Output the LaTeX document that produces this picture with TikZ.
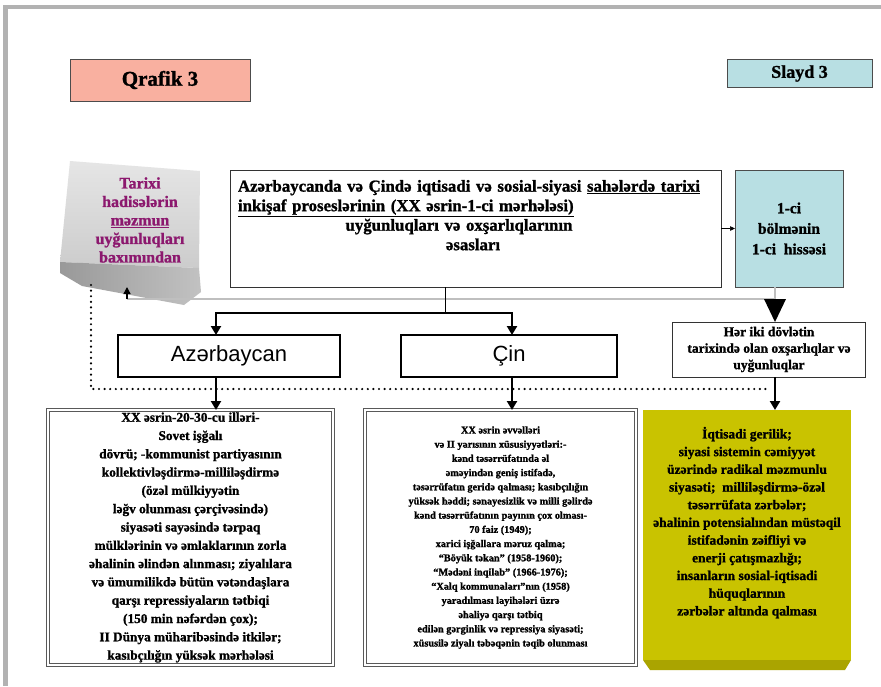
\documentclass[tikz,border=0pt]{standalone}
\usepackage{fontspec}
\setmainfont{Liberation Serif}[BoldFeatures={FakeBold=1.2}]
\newfontfamily\arialf{Liberation Sans}
\usetikzlibrary{arrows.meta,calc}
\definecolor{salmon}{RGB}{249,176,160}
\definecolor{lcyan}{RGB}{184,223,227}
\definecolor{purp}{RGB}{140,24,110}
\definecolor{olivey}{RGB}{201,195,0}
\definecolor{olived}{RGB}{170,164,0}
\begin{document}
\begin{tikzpicture}[x=1pt,y=-1pt,
  every node/.style={inner sep=0pt, outer sep=0pt},
  plainbox/.style={draw=black!80, line width=0.7pt, fill=white},
  dblbox/.style={draw=black!65, line width=0.9pt, double=white, double distance=1.6pt, fill=white},
  ctrybox/.style={draw=black, line width=2.6pt, fill=white, font=\arialf\fontsize{22}{25}\selectfont},
  thickarrow/.style={line width=2.6pt, -{Triangle[width=10pt,length=9pt]}},
  dline/.style={draw=black!75, line width=0.7pt, double=black!25, double distance=1.2pt},
  dotline/.style={line width=2.4pt, line cap=round, dash pattern=on 0pt off 5.6pt},
  txt/.style 2 args={align=center, font=\bfseries\fontsize{#1}{#2}\selectfont},
]
\useasboundingbox (0,0) rectangle (881,686);
\fill[white] (0,0) rectangle (881,686);
\draw[line width=4.5pt, black!30] (5.5,686) -- (5.5,7) -- (881,7);

% title boxes
\node[draw=black!70, line width=0.7pt, fill=salmon, minimum width=180pt, minimum height=42pt,
  font=\bfseries\fontsize{21}{24}\selectfont] (qrafik) at (160,80) {Qrafik 3};
\node[draw=black!70, line width=0.7pt, fill=lcyan, minimum width=145pt, minimum height=28pt,
  font=\bfseries\fontsize{18}{21}\selectfont] (slayd) at (799.5,73.5) {Slayd 3};

% 3D gray box
\shade[top color=black!10, bottom color=black!20] (70,161) -- (200,171) -- (199,268) -- (60,262) -- cycle;
\shade[left color=black!40, right color=black!24] (60,262) -- (199,268) -- (201,292) -- (184,305) -- (82,286) -- (60,273) -- cycle;
\node[align=center, text=purp, font=\bfseries\fontsize{16}{18.5}\selectfont] (hist) at (140,220)
  {Tarixi\\hadisələrin\\\underline{məzmun}\\uyğunluqları\\baxımından};
\coordinate (histbot) at (127,287);

% main box
\node[plainbox, minimum width=491pt, minimum height=117pt] (main) at (475.5,228.5) {};
\node[anchor=north west, text width=470pt, align=left,
  font=\bfseries\fontsize{16.8}{19.5}\selectfont] (maintext) at (238,180)
  {Azərbaycanda və Çində iqtisadi və sosial-siyasi \underline{sahələrdə tarixi}\\
   \underline{inkişaf proseslərinin (XX əsrin-1-ci mərhələsi)}\par
   \hspace*{-28pt}\centering uyğunluqları və oxşarlıqlarının\\əsasları\par};

% part box
\node[draw=black!70, line width=0.7pt, fill=lcyan, minimum width=108pt, minimum height=117pt,
  txt={15.5}{20.5}] (part) at (789,228.5) {1-ci\\bölmənin\\1-ci\ \ hissəsi};
\draw[line width=0.6pt, -{Triangle[width=4.5pt,length=5pt]}] (main.east) -- (part.west);

% both box
\node[plainbox, minimum width=193pt, minimum height=55pt, txt={13.5}{16.5}] (both) at (769,349.5)
  {Hər iki dövlətin\\tarixində olan oxşarlıqlar və\\uyğunluqlar};

% double connector
\coordinate (jr) at (775,299);
\coordinate (jl) at (127,299);
\draw[dline] (part.south -| jr) -- (jr);
\draw[dline] (jr) -- (jl);
\draw[line width=1.3pt, -{Triangle[width=7pt,length=7pt]}] (jl) -- (histbot);
\fill ($(jr)+(-11,0)$) -- ($(jr)+(11,0)$) -- (both.north -| jr) -- cycle;

% country boxes
\node[ctrybox, minimum width=222pt, minimum height=42pt] (az) at (229,356) {Azərbaycan};
\node[ctrybox, minimum width=216pt, minimum height=42pt] (cin) at (509,356) {Çin};

\coordinate (msplit) at (445,313);
\coordinate (ta) at (216,313);
\coordinate (tc) at (512,313);
\draw[line width=0.8pt] (main.south -| msplit) -- (msplit);
\draw[thickarrow] (msplit) -- (ta) -- (ta |- az.north);
\draw[thickarrow] (msplit) -- (tc) -- (tc |- cin.north);

% dotted line
\coordinate (dtop) at (91,285);
\coordinate (dcorner) at (91,389);
\coordinate (dend) at (768,389);
\draw[dotline] (dtop) -- (dcorner) -- (dend);

% bottom boxes
\node[dblbox, minimum width=285pt, minimum height=255pt, align=center,
  font=\bfseries\fontsize{13.3}{18.3}\selectfont] (lbox) at (190.5,537.5)
  {XX əsrin-20-30-cu illəri-\\
   Sovet işğalı\\
   dövrü; -kommunist partiyasının\\
   kollektivləşdirmə-milliləşdirmə\\
   (özəl mülkiyyətin\\
   ləğv olunması çərçivəsində)\\
   siyasəti sayəsində tərpaq\\
   mülklərinin və əmlaklarının zorla\\
   əhalinin əlindən alınması; ziyalılara\\
   və ümumilikdə bütün vətəndaşlara\\
   qarşı repressiyaların tətbiqi\\
   (150 min nəfərdən çox);\\
   II Dünya müharibəsində itkilər;\\
   kasıbçılığın yüksək mərhələsi};

\node[dblbox, minimum width=271pt, minimum height=255pt, align=center,
  font=\bfseries\fontsize{10.3}{14.2}\selectfont] (mbox) at (500.5,537.5)
  {XX əsrin əvvəlləri\\
   və II yarısının xüsusiyyətləri:-\\
   kənd təsərrüfatında əl\\
   əməyindən geniş istifadə,\\
   təsərrüfatın geridə qalması; kasıbçılığın\\
   yüksək həddi; sənayesizlik və milli gəlirdə\\
   kənd təsərrüfatının payının çox olması-\\
   70 faiz (1949);\\
   xarici işğallara məruz qalma;\\
   “Böyük təkan” (1958-1960);\\
   “Mədəni inqilab” (1966-1976);\\
   “Xalq kommunaları”nın (1958)\\
   yaradılması layihələri üzrə\\
   əhaliyə qarşı tətbiq\\
   edilən gərginlik və repressiya siyasəti;\\
   xüsusilə ziyalı təbəqənin təqib olunması};

\node[fill=olivey, minimum width=208pt, minimum height=250pt, align=center,
  font=\bfseries\fontsize{13.5}{17.7}\selectfont] (ybox) at (747,535)
  {İqtisadi gerilik;\\
   siyasi sistemin cəmiyyət\\
   üzərində radikal məzmunlu\\
   siyasəti;\ \ milliləşdirmə-özəl\\
   təsərrüfata zərbələr;\\
   əhalinin potensialından müstəqil\\
   istifadənin zəifliyi və\\
   enerji çatışmazlığı;\\
   insanların sosial-iqtisadi\\
   hüquqlarının\\
   zərbələr altında qalması\\[10pt]};
\fill[olived] (ybox.south west) -- (ybox.south east) -- ++(-6,10) -- ($(ybox.south west)+(7,10)$) -- cycle;

% arrows down
\draw[thickarrow] (ta |- az.south) -- (ta |- lbox.north);
\draw[thickarrow] (tc |- cin.south) -- (tc |- mbox.north);
\draw[thickarrow] (both.south -| jr) -- (ybox.north -| jr);
\end{tikzpicture}
\end{document}
